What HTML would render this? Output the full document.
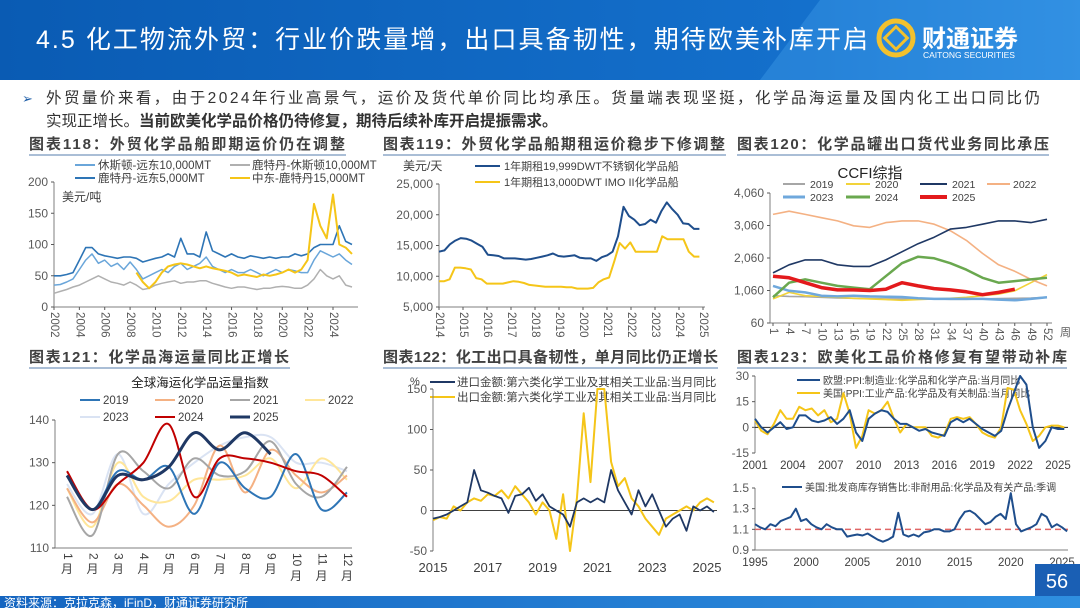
<!DOCTYPE html>
<html><head><meta charset="utf-8"><style>
html,body{margin:0;padding:0;background:#fff;}
svg{display:block;font-family:"Liberation Sans","Noto Sans CJK SC",sans-serif;}
</style></head><body>
<svg id="root" width="1080" height="608" viewBox="0 0 1080 608" xmlns="http://www.w3.org/2000/svg">
<defs>
<linearGradient id="hg" x1="0" x2="1" y1="0" y2="0"><stop offset="0" stop-color="#0a5bb3"/><stop offset="0.75" stop-color="#1470cc"/><stop offset="1" stop-color="#2a8ae0"/></linearGradient>
<linearGradient id="fg" x1="0" x2="1"><stop offset="0" stop-color="#1565c0"/><stop offset="1" stop-color="#2f8fe0"/></linearGradient>
</defs>
<g>
<rect x="0" y="0" width="1080" height="80" fill="url(#hg)"/>
<polygon points="820,0 1080,0 1080,80 760,80" fill="#3b9ae6" opacity="0.45"/>
<text x="36" y="48" fill="#fff" font-size="25" textLength="832">4.5 化工物流外贸：行业价跌量增，出口具备韧性，期待欧美补库开启</text>
<g>
<circle cx="896" cy="38" r="17" fill="none" stroke="#f2c12e" stroke-width="5"/>
<rect x="888" y="30" width="16" height="16" fill="none" stroke="#f2c12e" stroke-width="3" transform="rotate(45 896 38)"/>
<text x="922" y="47" fill="#fff" font-size="24" font-weight="bold">财通证券</text>
<text x="923" y="58" fill="#fff" font-size="8.5">CAITONG SECURITIES</text>
</g>
</g>
<g>
<text x="22" y="103" fill="#1f5fa8" font-size="13">➢</text>
<text x="46" y="103" fill="#333" font-size="15.5" textLength="994">外贸量价来看，由于2024年行业高景气，运价及货代单价同比均承压。货量端表现坚挺，化学品海运量及国内化工出口同比仍</text>
<text x="46" y="126" fill="#333" font-size="15.5">实现正增长。<tspan font-weight="bold">当前欧美化学品价格仍待修复，期待后续补库开启提振需求。</tspan></text>
</g>
<g font-size="15" font-weight="bold" fill="#404040">
<text x="29" y="149" textLength="316">图表118：外贸化学品船即期运价仍在调整</text>
<line x1="29" y1="155" x2="346" y2="155" stroke="#8ea9c8" stroke-width="1.5"/>
<text x="383" y="149" textLength="342">图表119：外贸化学品船期租运价稳步下修调整</text>
<line x1="383" y1="155" x2="726" y2="155" stroke="#8ea9c8" stroke-width="1.5"/>
<text x="737" y="149" textLength="312">图表120：化学品罐出口货代业务同比承压</text>
<line x1="737" y1="155" x2="1049" y2="155" stroke="#8ea9c8" stroke-width="1.5"/>
<text x="29" y="362" textLength="260">图表121：化学品海运量同比正增长</text>
<line x1="29" y1="368" x2="290" y2="368" stroke="#8ea9c8" stroke-width="1.5"/>
<text x="383" y="362" textLength="335">图表122：化工出口具备韧性，单月同比仍正增长</text>
<line x1="383" y1="368" x2="718" y2="368" stroke="#8ea9c8" stroke-width="1.5"/>
<text x="737" y="362" textLength="330">图表123：欧美化工品价格修复有望带动补库</text>
<line x1="737" y1="368" x2="1067" y2="368" stroke="#8ea9c8" stroke-width="1.5"/>
</g>
<g font-size="11.5" fill="#404040">
<g>
<line x1="75" y1="165" x2="95" y2="165" stroke="#6aa6da" stroke-width="2"/><text x="98" y="169">休斯顿-远东10,000MT</text>
<line x1="230" y1="165" x2="250" y2="165" stroke="#b0b0b0" stroke-width="2"/><text x="252" y="169">鹿特丹-休斯顿10,000MT</text>
<line x1="75" y1="178" x2="95" y2="178" stroke="#2e75b6" stroke-width="2"/><text x="98" y="182">鹿特丹-远东5,000MT</text>
<line x1="230" y1="178" x2="250" y2="178" stroke="#f5c518" stroke-width="2"/><text x="252" y="182">中东-鹿特丹15,000MT</text>
<text x="62" y="201" font-size="12">美元/吨</text>
</g>
<g>
<text x="403" y="170" font-size="12">美元/天</text>
<line x1="475" y1="166" x2="500" y2="166" stroke="#1f4e8c" stroke-width="2"/><text x="504" y="170" font-size="11">1年期租19,999DWT不锈钢化学品船</text>
<line x1="475" y1="182" x2="500" y2="182" stroke="#f5c518" stroke-width="2"/><text x="504" y="186" font-size="11">1年期租13,000DWT IMO II化学品船</text>
</g>
<g>
<text x="870" y="178" font-size="15" text-anchor="middle" fill="#222">CCFI综指</text>
<line x1="783" y1="184" x2="805" y2="184" stroke="#a6a6a6" stroke-width="2"/><text x="810" y="188" font-size="10.5">2019</text>
<line x1="846" y1="184" x2="870" y2="184" stroke="#f2d33a" stroke-width="2"/><text x="875" y="188" font-size="10.5">2020</text>
<line x1="920" y1="184" x2="947" y2="184" stroke="#1f3864" stroke-width="2"/><text x="952" y="188" font-size="10.5">2021</text>
<line x1="987" y1="184" x2="1010" y2="184" stroke="#f4b183" stroke-width="2"/><text x="1013" y="188" font-size="10.5">2022</text>
<line x1="783" y1="197" x2="805" y2="197" stroke="#6fa8dc" stroke-width="3"/><text x="810" y="201" font-size="10.5">2023</text>
<line x1="846" y1="197" x2="870" y2="197" stroke="#6aa84f" stroke-width="3"/><text x="875" y="201" font-size="10.5">2024</text>
<line x1="920" y1="197" x2="947" y2="197" stroke="#e31a1c" stroke-width="4"/><text x="952" y="201" font-size="10.5">2025</text>
</g>
<g>
<text x="200" y="387" font-size="12.5" text-anchor="middle" fill="#222">全球海运化学品运量指数</text>
<line x1="80" y1="400" x2="100" y2="400" stroke="#2e75b6" stroke-width="2"/><text x="103" y="404">2019</text>
<line x1="155" y1="400" x2="175" y2="400" stroke="#f4b183" stroke-width="2"/><text x="178" y="404">2020</text>
<line x1="230" y1="400" x2="250" y2="400" stroke="#a6a6a6" stroke-width="2"/><text x="253" y="404">2021</text>
<line x1="305" y1="400" x2="325" y2="400" stroke="#ffe699" stroke-width="2"/><text x="328" y="404">2022</text>
<line x1="80" y1="417" x2="100" y2="417" stroke="#dae3f3" stroke-width="2"/><text x="103" y="421">2023</text>
<line x1="155" y1="417" x2="175" y2="417" stroke="#c00000" stroke-width="2"/><text x="178" y="421">2024</text>
<line x1="230" y1="417" x2="250" y2="417" stroke="#1f3864" stroke-width="3"/><text x="253" y="421">2025</text>
</g>
<g>
<text x="410" y="385" font-size="11">%</text>
<line x1="430" y1="382" x2="455" y2="382" stroke="#1f3864" stroke-width="2"/><text x="457" y="386" font-size="11.5">进口金额:第六类化学工业及其相关工业品:当月同比</text>
<line x1="430" y1="397" x2="455" y2="397" stroke="#f5c518" stroke-width="2"/><text x="457" y="401" font-size="11.5">出口金额:第六类化学工业及其相关工业品:当月同比</text>
</g>
<g font-size="10">
<line x1="797" y1="380" x2="820" y2="380" stroke="#1f4e8c" stroke-width="2"/><text x="823" y="384">欧盟:PPI:制造业:化学品和化学产品:当月同比</text>
<line x1="797" y1="393" x2="820" y2="393" stroke="#f5c518" stroke-width="2"/><text x="823" y="397">美国:PPI:工业产品:化学品及有关制品:当月同比</text>
<line x1="782" y1="487" x2="802" y2="487" stroke="#1f4e8c" stroke-width="2"/><text x="805" y="491">美国:批发商库存销售比:非耐用品:化学品及有关产品:季调</text>
</g>
</g>
<g id="plots"></g>
<g>
<rect x="1035" y="564" width="45" height="32" fill="#1a5fb4"/>
<text x="1057" y="588" fill="#fff" font-size="20" text-anchor="middle">56</text>
<rect x="0" y="596" width="1080" height="12" fill="url(#fg)"/>
<text x="4" y="607" fill="#fff" font-size="12">资料来源：克拉克森，iFinD，财通证券研究所</text>
</g>
</svg>
<script>
// ---------- Chart 118 data ----------
const c118Start = 2002, c118Step = 0.5;
const c118XTicks = [2002,2004,2006,2008,2010,2012,2014,2016,2018,2020,2022,2024];
const c118YTicks = [0,50,100,150,200];
const c118HoustonFE = [35,36,40,45,60,75,85,70,75,65,70,60,72,60,45,50,55,60,55,65,70,60,65,70,80,65,60,55,60,55,55,60,55,50,55,60,55,60,58,55,55,75,90,85,80,85,75,68];
const c118RotHouston = [22,25,28,32,35,40,45,50,45,40,38,35,40,35,28,30,35,38,40,42,38,40,40,42,42,38,35,32,30,32,32,30,28,30,30,32,33,32,30,30,35,45,60,50,45,50,35,32];
const c118RotFE = [50,50,52,55,75,95,95,85,82,80,78,80,80,78,72,75,78,80,85,80,110,85,85,80,120,90,85,80,85,80,78,82,80,78,80,78,80,80,85,82,85,95,100,100,100,130,105,100];
const c118MERot = [null,null,null,null,null,null,null,null,null,null,null,null,null,55,40,30,40,55,65,68,70,68,65,62,65,62,60,58,55,50,52,50,48,52,50,52,55,60,55,60,75,165,130,110,180,100,95,85];
// ---------- Chart 119 data ----------
const c119Start = 2014, c119End = 2024.85;
const c119XTicks = [2014,2015,2016,2017,2018,2019,2020,2021,2022,2023,2024,2025];
const c119YTicks = [5000,10000,15000,20000,25000];
const c119Stainless = [14000,14200,15200,15800,16200,16100,15800,15300,14800,13500,13400,13300,12900,12900,12900,12800,12700,12800,13000,13200,13400,13700,13300,13200,13300,13400,13000,12900,12900,12500,13100,13400,14000,16500,21300,19800,19200,18300,18500,19200,18700,20600,22000,20900,20000,18600,18500,17700,17700];
const c119IMO = [9200,9200,9500,11400,11400,11300,11100,9700,9500,8800,8800,8800,8800,9000,9200,9100,8900,8600,8500,8400,8300,8300,8300,8300,8200,8200,8000,8000,8000,8100,9000,9500,9800,12500,15400,14500,15500,14000,14000,14000,14000,14000,16500,16000,16000,16000,16000,14000,13200,13200];
// ---------- Chart 120 data ----------
const c120Weeks = [1,4,7,10,13,16,19,22,25,28,31,34,37,40,43,46,49,52];
const c120YTicks = [60,1060,2060,3060,4060];
const c120Y2019 = [900,880,870,850,830,820,810,800,800,800,800,790,790,800,810,820,830,850];
const c120Y2020 = [800,1000,900,880,850,820,800,780,760,780,800,820,850,900,950,1050,1300,1550];
const c120Y2021 = [1600,1850,2000,2000,1850,1800,1800,2000,2250,2500,2700,2950,3000,3100,3200,3200,3150,3250];
const c120Y2022 = [3400,3500,3400,3300,3200,3050,3000,3150,3200,3200,3100,2900,2600,2200,1850,1650,1400,1200];
const c120Y2023 = [1200,1050,1000,900,880,900,880,870,860,820,800,800,800,800,780,760,800,850];
const c120Y2024 = [850,1300,1400,1300,1200,1150,1100,1500,1900,2100,2050,1900,1700,1450,1300,1350,1400,1450];
const c120Y2025 = [1500,1450,1300,1150,1080,1080,1060,1100,1300,1200,1120,1080,1020,930,1000,1100,null,null];
// ---------- Chart 121 data ----------
const c121Months = ["1","2","3","4","5","6","7","8","9","10","11","12"];
const c121YTicks = [110,120,130,140];
const c121Y2019 = [127,119,128,126,129,118,130,124,122,132,119,123];
const c121Y2020 = [124,116,125,120,115,120,134,123,133,127,123,127];
const c121Y2021 = [122,113,132,128,124,131,127,128,135,125,122,129];
const c121Y2022 = [124,115,130,122,121,126,126,127,131,124,131,126];
const c121Y2023 = [125,118,132,118,125,130,134,136,136,130,130,128];
const c121Y2024 = [128,119,125,130,139,122,131,131,130,128,127,122];
const c121Y2025 = [127,119,127,126,129,137,133,137,132];
// ---------- Chart 122 data ----------
const c122Start = 2015, c122Step = 0.25;
const c122XTicks = [2015,2017,2019,2021,2023,2025];
const c122YTicks = [-50,0,50,100,150];
const c122Import = [-10,-8,-5,0, 5,10,50,25, 22,18,15,-3, 18,20,28,12, 20,5,0,-5, -20,10,15,10, 15,10,50,25, 10,-5,25,5, 20,0,-20,-10, -5,-25,5,0, 5,-2];
const c122Export = [-12,-8,-10,5, 0,10,15,12, 20,18,25,15, 30,20,10,-5, 10,0,-35,20, -50,15,120,35, 150,150,60,30, 40,15,5,-10, -20,-30,-10,-5, 0,5,0,10, 15,10];
// ---------- Chart 123 data ----------
const c123Start = 2001, c123Step = 0.5;
const c123XTicks = [2001,2004,2007,2010,2013,2016,2019,2022,2025];
const c123YTicks = [-15,0,15,30];
const c123EU = [5,0,-3,0,3,-1,0,7,7,4,3,4,6,2,5,10,-3,-8,5,8,10,9,5,2,2,0,-2,-1,-3,-4,-5,3,5,3,5,2,-1,-3,-5,-2,10,20,30,25,0,-12,-8,0,-1,-1];
const c123US = [4,-2,-4,2,10,5,5,12,10,11,7,10,3,5,20,8,-12,-5,10,8,10,15,5,-3,2,0,0,0,-5,-6,-4,5,6,5,6,2,-3,-5,-6,0,23,22,10,2,-8,-5,0,1,1,0];
const c123bStart = 1995, c123bStep = 0.5;
const c123bXTicks = [1995,2000,2005,2010,2015,2020,2025];
const c123bYTicks = [0.9,1.1,1.3,1.5];
const c123bRef = [1.1];
const c123bRatio = [1.15,1.12,1.1,1.15,1.13,1.18,1.2,1.22,1.3,1.18,1.2,1.15,1.12,1.1,1.15,1.12,1.1,1.1,1.03,1.04,1.05,1.04,1.06,1.03,1.0,0.98,1.0,1.03,1.26,1.05,1.03,1.05,1.03,1.07,1.08,1.1,1.1,1.08,1.08,1.1,1.2,1.27,1.28,1.25,1.2,1.15,1.17,1.22,1.25,1.2,1.45,1.15,1.08,1.1,1.12,1.15,1.25,1.22,1.12,1.15,1.12,1.08];

const NS = 'http://www.w3.org/2000/svg';
const plots = document.getElementById('plots');
function mk(tag, attrs, parent){const e=document.createElementNS(NS,tag);for(const k in attrs)e.setAttribute(k,attrs[k]);(parent||plots).appendChild(e);return e;}
function lin(d0,d1,r0,r1){return v=>r0+(v-d0)*(r1-r0)/(d1-d0);}
function pathD(xs, ys, smooth){
  let d='', seg=[];
  const flush=()=>{ if(seg.length<2){seg=[];return;}
    d+='M'+seg[0][0].toFixed(1)+','+seg[0][1].toFixed(1);
    for(let i=1;i<seg.length;i++){
      if(smooth){const p0=seg[i-2]||seg[i-1],p1=seg[i-1],p2=seg[i],p3=seg[i+1]||p2;
        const c1=[p1[0]+(p2[0]-p0[0])/6,p1[1]+(p2[1]-p0[1])/6],c2=[p2[0]-(p3[0]-p1[0])/6,p2[1]-(p3[1]-p1[1])/6];
        d+='C'+c1[0].toFixed(1)+','+c1[1].toFixed(1)+' '+c2[0].toFixed(1)+','+c2[1].toFixed(1)+' '+p2[0].toFixed(1)+','+p2[1].toFixed(1);}
      else d+='L'+seg[i][0].toFixed(1)+','+seg[i][1].toFixed(1);
    } seg=[]; };
  for(let i=0;i<ys.length;i++){ if(ys[i]===null||ys[i]===undefined){flush();continue;} seg.push([xs[i],ys[i]]); }
  flush(); return d;
}
function series(name, xv, yv, sx, sy, color, w, smooth){
  const p = mk('path',{d:pathD(xv.map(sx), yv.map(v=>v===null?null:sy(v)), smooth), fill:'none', stroke:color, 'stroke-width':w, 'stroke-linejoin':'round'});
  
  
}
function idxX(n, start, step){return Array.from({length:n},(_, i)=>start+i*step);}
function yAxis(name, ticks, sy, x, fmt, gridX2){
  const g = mk('g',{'font-size':12, fill:'#595959'});
  
  
  ticks.forEach(t=>{ const y=sy(t);
    const tx = mk('text',{x:x-6, y:y+4, 'text-anchor':'end'}, g); tx.textContent = fmt(t);
    mk('line',{x1:x-3,x2:x,y1:y,y2:y,stroke:'#595959'}, g);
  });
}
function xAxisRot(name, ticks, sx, y, fmt){
  const g = mk('g',{'font-size':11.5, fill:'#595959'});
  
  
  ticks.forEach(t=>{ const x=sx(t);
    const tx = mk('text',{x:x, y:y, transform:'rotate(90 '+x+' '+y+')', 'dominant-baseline':'middle'}, g); tx.textContent = fmt(t);
    mk('line',{x1:x,x2:x,y1:y-5,y2:y-2,stroke:'#595959'}, g);
  });
}
function xAxisFlat(name, ticks, sx, y, fmt, size){
  const g = mk('g',{'font-size':size||12.5, fill:'#404040', 'text-anchor':'middle'});
  
  
  ticks.forEach(t=>{ const tx = mk('text',{x:sx(t), y:y}, g); tx.textContent = fmt(t); });
}
const fmtComma = v=>v.toLocaleString('en-US');

// ---- Chart 118 ----
{ const sx=lin(2002,2024,54,333), sy=lin(0,200,307,182);
  mk('line',{x1:54,y1:182,x2:54,y2:307,stroke:'#7f7f7f'}); mk('line',{x1:54,y1:307,x2:358,y2:307,stroke:'#7f7f7f'});
  yAxis('y-axis-118', c118YTicks, sy, 54, v=>String(v));
  xAxisRot('x-axis-118', c118XTicks, sx, 312, v=>String(v));
  const xs = idxX(c118RotFE.length, c118Start, c118Step);
  series('line-rotterdam-houston', xs, c118RotHouston, sx, sy, '#b0b0b0', 1.5);
  series('line-houston-fareast', xs, c118HoustonFE, sx, sy, '#6aa6da', 1.5);
  series('line-rotterdam-fareast', xs, c118RotFE, sx, sy, '#2e75b6', 1.6);
  series('line-mideast-rotterdam', xs, c118MERot, sx, sy, '#f5c518', 2);
}
// ---- Chart 119 ----
{ const sx=lin(2014,2025,439,703), sy=lin(5000,25000,307,184);
  mk('line',{x1:439,y1:184,x2:439,y2:307,stroke:'#7f7f7f'}); mk('line',{x1:439,y1:307,x2:705,y2:307,stroke:'#7f7f7f'});
  yAxis('y-axis-119', c119YTicks, sy, 439, fmtComma);
  xAxisRot('x-axis-119', c119XTicks, sx, 312, v=>String(v));
  series('line-stainless-tanker', idxX(c119Stainless.length, c119Start, (c119End-c119Start)/(c119Stainless.length-1)), c119Stainless, sx, sy, '#1f4e8c', 2);
  series('line-imo2-tanker', idxX(c119IMO.length, c119Start, (c119End-c119Start)/(c119IMO.length-1)), c119IMO, sx, sy, '#f5c518', 2);
}
// ---- Chart 120 ----
{ const sx=lin(1,52,773,1047), sy=lin(60,4060,323,193);
  mk('line',{x1:770,y1:193,x2:770,y2:323,stroke:'#7f7f7f'}); mk('line',{x1:770,y1:323,x2:1052,y2:323,stroke:'#7f7f7f'});
  yAxis('y-axis-120', c120YTicks, sy, 770, fmtComma);
  xAxisRot('x-axis-120', c120Weeks, sx, 328, v=>String(v));
  const wk = mk('text',{x:1060,y:336,'font-size':11,fill:'#595959'}); wk.textContent='周';
  series('line-ccfi-2019', c120Weeks, c120Y2019, sx, sy, '#a6a6a6', 1.6);
  series('line-ccfi-2020', c120Weeks, c120Y2020, sx, sy, '#f2d33a', 1.6);
  series('line-ccfi-2023', c120Weeks, c120Y2023, sx, sy, '#6fa8dc', 2.5);
  series('line-ccfi-2022', c120Weeks, c120Y2022, sx, sy, '#f4b183', 1.6);
  series('line-ccfi-2021', c120Weeks, c120Y2021, sx, sy, '#1f3864', 1.6);
  series('line-ccfi-2024', c120Weeks, c120Y2024, sx, sy, '#6aa84f', 2.5);
  series('line-ccfi-2025', c120Weeks, c120Y2025, sx, sy, '#e31a1c', 3.5);
}
// ---- Chart 121 ----
{ const sx=lin(1,12,67,347), sy=lin(110,140,548,420);
  mk('line',{x1:55,y1:420,x2:55,y2:548,stroke:'#7f7f7f'}); mk('line',{x1:55,y1:548,x2:352,y2:548,stroke:'#7f7f7f'});
  yAxis('y-axis-121', c121YTicks, sy, 55, v=>String(v));
  const g = mk('g',{'font-size':12,fill:'#404040'});
  
  
  c121Months.forEach((m,i)=>{ const x=sx(i+1);
    const t=mk('text',{x:x,y:553,transform:'rotate(90 '+x+' 553)','dominant-baseline':'middle'},g); t.textContent=m;
    const u=mk('text',{x:x,y:553+m.length*7+13,'text-anchor':'middle'},g); u.textContent='月'; });
  const m = n=>Array.from({length:n},(_, i)=>i+1);
  series('line-volume-2023', m(12), c121Y2023, sx, sy, '#dae3f3', 2, true);
  series('line-volume-2022', m(12), c121Y2022, sx, sy, '#ffe699', 2, true);
  series('line-volume-2020', m(12), c121Y2020, sx, sy, '#f4b183', 2, true);
  series('line-volume-2021', m(12), c121Y2021, sx, sy, '#a6a6a6', 2, true);
  series('line-volume-2019', m(12), c121Y2019, sx, sy, '#2e75b6', 2, true);
  series('line-volume-2024', m(12), c121Y2024, sx, sy, '#c00000', 2, true);
  series('line-volume-2025', m(c121Y2025.length), c121Y2025, sx, sy, '#1f3864', 3, true);
}
// ---- Chart 122 ----
{ const sx=lin(2015,2025,433,707), sy=lin(-50,150,551,389);
  mk('line',{x1:433,y1:389,x2:433,y2:551,stroke:'#7f7f7f'}); mk('line',{x1:433,y1:sy(0),x2:717,y2:sy(0),stroke:'#404040'});
  yAxis('y-axis-122', c122YTicks, sy, 433, v=>String(v));
  xAxisFlat('x-axis-122', c122XTicks, sx, 572, v=>String(v), 13);
  const xs = idxX(c122Export.length, c122Start, c122Step);
  series('line-export-yoy', xs, c122Export, sx, sy, '#f5c518', 2);
  series('line-import-yoy', idxX(c122Import.length, c122Start, c122Step), c122Import, sx, sy, '#1f3864', 1.8);
}
// ---- Chart 123 top ----
{ const sx=lin(2001,2025,755,1058), sy=lin(-15,30,453,376);
  mk('line',{x1:755,y1:376,x2:755,y2:453,stroke:'#7f7f7f'}); mk('line',{x1:755,y1:sy(0),x2:1068,y2:sy(0),stroke:'#222'});
  yAxis('y-axis-123-ppi', c123YTicks, sy, 755, v=>String(v));
  xAxisFlat('x-axis-123-ppi', c123XTicks, sx, 469, v=>String(v), 11.5);
  series('line-us-ppi', idxX(c123US.length, c123Start, c123Step), c123US, sx, sy, '#f5c518', 2);
  series('line-eu-ppi', idxX(c123EU.length, c123Start, c123Step), c123EU, sx, sy, '#1f4e8c', 2);
}
// ---- Chart 123 bottom ----
{ const sx=lin(1995,2025,755,1062), sy=lin(0.9,1.5,550,488);
  mk('line',{x1:755,y1:488,x2:755,y2:550,stroke:'#7f7f7f'}); mk('line',{x1:755,y1:550,x2:1068,y2:550,stroke:'#7f7f7f'});
  yAxis('y-axis-123-ratio', c123bYTicks, sy, 755, v=>v.toFixed(1));
  xAxisFlat('x-axis-123-ratio', c123bXTicks, sx, 566, v=>String(v), 11.5);
  const r = mk('line',{x1:755,x2:1068,y1:sy(c123bRef[0]),y2:sy(c123bRef[0]),stroke:'#e06666','stroke-width':1.5,'stroke-dasharray':'6,4'});
  
  
  series('line-inventory-sales-ratio', idxX(c123bRatio.length, c123bStart, c123bStep), c123bRatio, sx, sy, '#1f4e8c', 2);
}
</script>
</body></html>
